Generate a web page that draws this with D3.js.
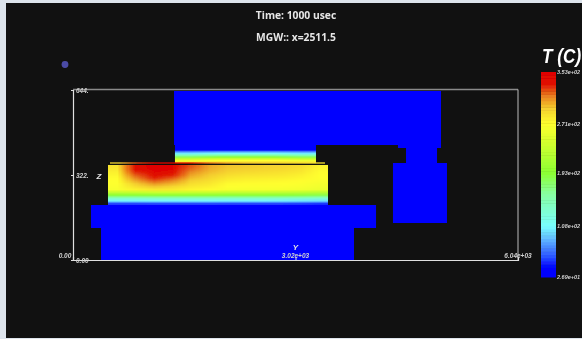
<!DOCTYPE html>
<html>
<head>
<meta charset="utf-8">
<script src="https://cdn.jsdelivr.net/npm/d3@7"></script>
<style>
  html, body { margin: 0; padding: 0; background: #dde4ec; overflow: hidden; }
  svg { display: block; }
  text { fill: #e6e6e6; font-family: "Liberation Sans", sans-serif; }
  .tiny { font-size: 6.5px; font-style: italic; font-weight: bold; fill: #d0d0d0; }
</style>
</head>
<body>
<div id="chart"></div>
<script>
// plot domain: y and z of the slice
const yTicks = [0, 3020, 6040];
const yTickLabels = ["0.00", "3.02e+03", "6.04e+03"];
const zTicks = [0, 322, 644];
const zTickLabels = ["0.00", "322.", "644."];

// colorbar ticks, top to bottom
const tempTicks = [353, 271, 193, 108, 26.9];
const tempTickLabels = ["3.53e+02", "2.71e+02", "1.93e+02", "1.08e+02", "2.69e+01"];
const tempStops = [26.9, 43, 59, 90, 108, 160, 193, 271, 295, 315, 335, 353];
const tempColors = ["#0000ff", "#0000ff", "#2a50ff", "#64c0ff", "#78ffff", "#88ffa0", "#8cff32", "#ffff2d", "#f5d030", "#e88020", "#e01000", "#e00000"];

// cold material outlines [y, z]
const upperBlock = [[1371, 640], [4995, 640], [4995, 424], [4941, 424], [4941, 367], [5076, 367], [5076, 140],
    [4343, 140], [4343, 367], [4520, 367], [4520, 424], [4411, 424], [4411, 436], [3298, 436], [3298, 367],
    [1384, 367], [1384, 436], [1371, 436]];
const lowerBlock = [[244, 208], [4113, 208], [4113, 121], [3814, 121], [3814, 0], [380, 0], [380, 121], [244, 121]];

// temperature in the main layer, rows top to bottom
const mainExtent = [475, 3461, 208, 360];
const mainField = [
    [285, 338, 352, 350, 322, 305, 298, 296, 294, 292, 288, 276],
    [282, 336, 350, 346, 318, 303, 296, 294, 292, 290, 285, 274],
    [278, 330, 346, 340, 312, 300, 293, 290, 288, 286, 282, 272],
    [275, 322, 340, 332, 306, 296, 288, 285, 284, 282, 278, 271],
    [272, 314, 332, 322, 300, 292, 283, 280, 279, 278, 275, 270],
    [271, 305, 322, 312, 294, 287, 278, 276, 275, 274, 272, 268],
    [270, 296, 310, 302, 288, 283, 273, 272, 272, 271, 269, 265],
    [268, 288, 298, 292, 282, 278, 270, 269, 268, 268, 266, 262],
    [266, 278, 284, 282, 276, 273, 266, 265, 265, 264, 262, 258],
    [232, 234, 238, 238, 236, 235, 232, 232, 232, 230, 228, 224],
    [192, 192, 195, 195, 195, 195, 194, 194, 194, 192, 190, 186],
    [140, 140, 142, 142, 142, 142, 141, 141, 141, 140, 138, 135],
    [105, 105, 106, 106, 106, 106, 105, 105, 105, 104, 102, 100],
    [55, 55, 56, 56, 56, 56, 55, 55, 55, 55, 54, 52]
];

// upper layer over the slot
const slotExtent = [1384, 3298, 367, 420];
const slotField = [
    [38, 40, 40, 40, 38],
    [78, 82, 82, 82, 78],
    [104, 110, 110, 110, 104],
    [145, 155, 155, 155, 145],
    [182, 192, 192, 192, 182],
    [230, 240, 240, 240, 230],
    [260, 270, 270, 270, 260],
    [280, 288, 288, 288, 280]
];

// thin film on top of the main layer
const filmExtent = [502, 3420, 364, 371];
const filmField = [
    [292, 325, 345, 350, 335, 318, 305, 298, 295, 292, 290, 285]
];

const width = 582;
const height = 339;

const y = d3.scaleLinear().domain([0, 6040]).range([73, 518]);
const z = d3.scaleLinear().domain([0, 644]).range([260, 90]);
const tempColor = d3.scaleLinear().domain(tempStops).range(tempColors).clamp(true);
const barY = d3.scaleLinear().domain([26.9, 353]).range([277, 72]);

const svg = d3.select("#chart").append("svg")
    .attr("width", width)
    .attr("height", height);

// the source is an upscaled low res render, everything is a bit soft
svg.append("filter")
    .attr("id", "soft")
    .attr("filterUnits", "userSpaceOnUse")
    .attr("x", 0).attr("y", 0).attr("width", width).attr("height", height)
    .append("feGaussianBlur").attr("stdDeviation", 0.5);

svg.append("rect")
    .attr("x", 6).attr("y", 3)
    .attr("width", width - 6).attr("height", 335)
    .attr("fill", "#111111");

const g = svg.append("g").attr("filter", "url(#soft)");

const outline = d3.line().x(d => y(d[0])).y(d => z(d[1]));

g.selectAll("path.block")
    .data([upperBlock, lowerBlock])
    .enter()
    .append("path")
    .attr("class", "block")
    .attr("d", d => outline(d) + "Z")
    .attr("fill", "#0000ff");

// one canvas pixel per field cell, the browser smooths it when scaled up
const drawField = (field, extent, opacity = 1) => {
    const canvas = document.createElement("canvas");
    canvas.width = field[0].length;
    canvas.height = field.length;
    const ctx = canvas.getContext("2d");
    field.forEach((row, i) => row.forEach((t, j) => {
        ctx.fillStyle = tempColor(t);
        ctx.fillRect(j, i, 1, 1);
    }));
    g.append("image")
        .attr("href", canvas.toDataURL())
        .attr("preserveAspectRatio", "none")
        .attr("opacity", opacity)
        .attr("x", y(extent[0]))
        .attr("y", z(extent[3]))
        .attr("width", y(extent[1]) - y(extent[0]))
        .attr("height", z(extent[2]) - z(extent[3]));
};

// dark gap between the film and the main layer
g.append("rect")
    .attr("x", y(mainExtent[0]))
    .attr("y", z(367))
    .attr("width", y(mainExtent[1]) - y(mainExtent[0]))
    .attr("height", z(360) - z(367))
    .attr("fill", "#111111");

drawField(mainField, mainExtent);
drawField(slotField, slotExtent);
drawField(filmField, filmExtent, 0.7);

// bounding box, left and bottom edges are brighter
const box = g.append("g").attr("fill", "none");
box.append("line").attr("x1", y(0)).attr("x2", y(6040)).attr("y1", z(644) - 0.5).attr("y2", z(644) - 0.5)
    .attr("stroke", "#8a8a8a").attr("stroke-width", 1.3);
box.append("line").attr("x1", y(6040)).attr("x2", y(6040)).attr("y1", z(644) - 0.5).attr("y2", z(0)).attr("stroke", "#bdbdbd");

const yAxis = d3.axisBottom(y)
    .tickValues(yTicks.slice(1, 2))
    .tickSize(-3)
    .tickFormat("");
g.append("g")
    .attr("transform", `translate(0,${z(0)})`)
    .call(yAxis)
    .call(a => a.select(".domain").attr("stroke", "#e0e0e0").attr("stroke-width", 1.2))
    .call(a => a.selectAll("line").attr("stroke", "#e0e0e0"));

const zAxis = d3.axisLeft(z)
    .tickValues(zTicks)
    .tickSize(2)
    .tickFormat((d, i) => zTickLabels[i]);
g.append("g")
    .attr("transform", `translate(${y(0)},0)`)
    .call(zAxis)
    .call(a => a.select(".domain").attr("stroke", "#e0e0e0").attr("stroke-width", 1.2))
    .call(a => a.selectAll("line").attr("stroke", "#e0e0e0"))
    .call(a => a.selectAll("text")
        .attr("class", "tiny")
        .attr("text-anchor", "start")
        .attr("x", 3)
        .attr("dy", "0.45em"));

// y labels sit above the bottom edge, first one left of the box
g.selectAll("text.ylabel")
    .data(yTickLabels)
    .enter()
    .append("text")
    .attr("class", "tiny ylabel")
    .attr("text-anchor", "middle")
    .attr("x", (d, i) => y(yTicks[i]) + (i === 0 ? -8 : 0))
    .attr("y", 257.5)
    .text(d => d);

g.append("text").attr("x", y(3020)).attr("y", 250).attr("text-anchor", "middle")
    .style("font-size", "8px").style("font-style", "italic").style("font-weight", "bold").text("Y");
g.append("text").attr("x", 99).attr("y", 179).attr("text-anchor", "middle")
    .style("font-size", "8px").style("font-style", "italic").style("font-weight", "bold").text("Z");

// titles
g.selectAll("text.title")
    .data([["Time: 1000 usec", 18.5], ["MGW:: x=2511.5", 41]])
    .enter()
    .append("text")
    .attr("class", "title")
    .attr("x", 296)
    .attr("y", d => d[1])
    .attr("text-anchor", "middle")
    .style("font-family", "'Open Sans', sans-serif")
    .style("font-size", "10.3px")
    .style("font-weight", 700)
    .text(d => d[0]);

g.append("circle").attr("cx", 65).attr("cy", 64.5).attr("r", 3.4).attr("fill", "#4c4ca6");

// colorbar
const bands = d3.range(64).map(i => 26.9 + (353 - 26.9) * i / 64);
const bandStep = (353 - 26.9) / 64;
g.selectAll("rect.band")
    .data(bands)
    .enter()
    .append("rect")
    .attr("class", "band")
    .attr("x", 541)
    .attr("width", 15)
    .attr("y", d => barY(d + bandStep))
    .attr("height", barY(0) - barY(bandStep) + 0.5)
    .attr("fill", d => tempColor(d + bandStep / 2));

g.selectAll("text.barlabel")
    .data(tempTicks)
    .enter()
    .append("text")
    .attr("class", "tiny barlabel")
    .attr("x", 557)
    .attr("y", d => barY(d) + 2)
    .style("font-size", "5.5px")
    .text((d, i) => tempTickLabels[i]);

// squeezed so it ends at the window edge
g.append("text")
    .attr("transform", "translate(542,63) scale(0.86,1)")
    .style("font-size", "20px")
    .style("font-style", "italic")
    .style("font-weight", "bold")
    .style("fill", "#ffffff")
    .text("T (C)");
</script>
</body>
</html>
